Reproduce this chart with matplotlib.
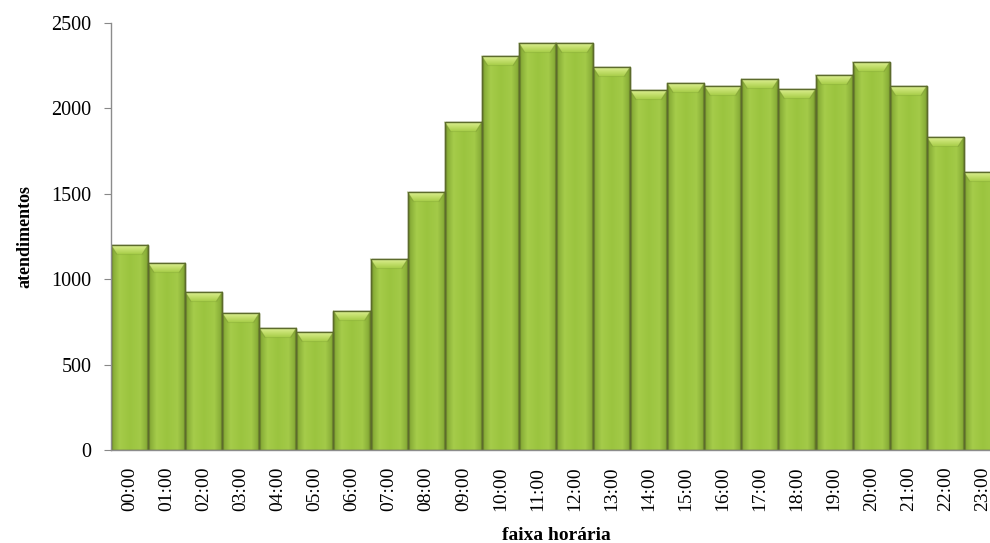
import numpy as np
import matplotlib.pyplot as plt
from matplotlib.colors import LinearSegmentedColormap
from matplotlib.patches import Polygon

plt.rcParams['font.family'] = ['Liberation Serif', 'DejaVu Serif']

faixas = [f'{h:02d}:00' for h in range(24)]
atendimentos = [1200, 1094, 924, 801, 713, 690, 813, 1117, 1509, 1918, 2304, 2380,
                2380, 2240, 2105, 2146, 2129, 2170, 2111, 2193, 2269, 2129, 1830, 1626]

# horizontal shading across each bar: dark rims, brighter body
bar_cmap = LinearSegmentedColormap.from_list('verde', [
    (0.00, '#637a24'), (0.06, '#89ae38'), (0.22, '#a5cc4a'),
    (0.50, '#9bc43f'), (0.78, '#a3ca48'), (0.94, '#89ae38'), (1.00, '#637a24')])
# vertical shading of the bevelled top face
top_cmap = LinearSegmentedColormap.from_list('topo', ['#a9cf4c', '#c4df6c', '#dcef95'])
grad_h = np.linspace(0, 1, 64).reshape(1, -1)
grad_v = np.linspace(0, 1, 32).reshape(-1, 1)

fig = plt.figure(figsize=(9.9, 5.43), dpi=100)
ax = fig.add_axes([0.1121, 0.1713, 0.899, 0.787])

x = np.arange(len(faixas))
bars = ax.bar(x, atendimentos, width=1.0, color='#9cc540',
              edgecolor='#5c6b2c', linewidth=1.0, zorder=2)

bevel = 2500 * 9 / 427.5
inset = 0.15
for b in bars:
    x0, w, h = b.get_x(), b.get_width(), b.get_height()
    im = ax.imshow(grad_h, cmap=bar_cmap, aspect='auto',
                   extent=(x0, x0 + w, 0, h), zorder=2.1)
    im.set_clip_path(b)
    # bevelled top face
    face = Polygon([(x0, h), (x0 + w, h), (x0 + w * (1 - inset), h - bevel),
                    (x0 + w * inset, h - bevel)], closed=True,
                   facecolor='none', edgecolor='none', zorder=2.2)
    ax.add_patch(face)
    imt = ax.imshow(grad_v, cmap=top_cmap, aspect='auto', origin='lower',
                    extent=(x0, x0 + w, h - bevel, h), zorder=2.2)
    imt.set_clip_path(face)
    for a, c in ((x0, x0 + w * inset), (x0 + w, x0 + w * (1 - inset))):
        ax.plot([a, c], [h, h - bevel], color='#7d9a34', lw=0.8, alpha=0.6, zorder=2.25)
    ax.plot([x0 + w * inset, x0 + w * (1 - inset)], [h - bevel, h - bevel],
            color='#8fb33c', lw=0.8, alpha=0.5, zorder=2.25)
    ax.add_patch(plt.Rectangle((x0, 0), w, h, fill=False, edgecolor='#5c6b2c',
                               linewidth=1.0, zorder=2.3))

ax.set_xlim(-0.5, len(faixas) - 0.5)
ax.set_ylim(0, 2500)

ax.set_yticks([0, 500, 1000, 1500, 2000, 2500])
ax.set_xticks(x)
ax.set_xticklabels(faixas, rotation=90, fontsize=14)
ax.tick_params(axis='y', labelsize=14.5, length=5, color='#888888', pad=9)
ax.tick_params(axis='x', length=0, pad=12)

for s in ('top', 'right'):
    ax.spines[s].set_visible(False)
for s in ('left', 'bottom'):
    ax.spines[s].set_color('#8c8c8c')
    ax.spines[s].set_linewidth(1.0)

ax.set_ylabel('atendimentos', fontsize=13, fontweight='bold', labelpad=13)
ax.set_xlabel('faixa horária', fontsize=14, fontweight='bold', labelpad=11)

fig.savefig('out.png', dpi=100)
